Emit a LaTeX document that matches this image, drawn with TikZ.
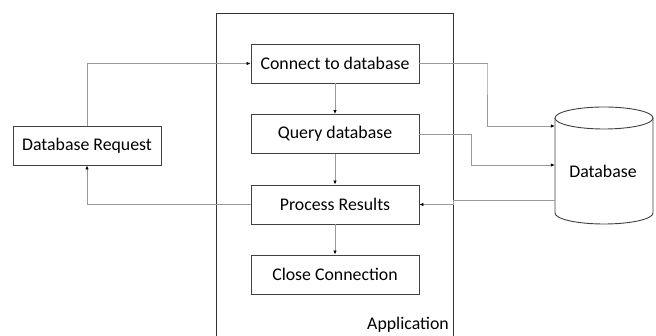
\documentclass[tikz,border=0pt]{standalone}
\usepackage{fontspec}
\setmainfont{Carlito}
\usetikzlibrary{arrows.meta}
\begin{document}
\begin{tikzpicture}[x=1pt,y=-1pt,
  lbl/.style={font=\fontsize{17.8}{20}\selectfont},
  box/.style={draw=black!75, line width=0.9pt, minimum width=168pt, minimum height=39pt, inner sep=0pt, lbl},
  conn/.style={draw=black!40, line width=0.8pt, -{Latex[length=4pt,width=3.5pt,black]}},
  cyl/.style={draw=black!75, line width=0.9pt}]
\useasboundingbox (0,0) rectangle (656,336);
\clip (0,0) rectangle (656,336);
% application container
\draw[black!80, line width=0.9pt] (216,345) -- (216,13) -- (453,13) -- (453,345);
\node[anchor=south east, inner sep=0pt, lbl] (applbl) at (449,333) {Application};
% steps
\node[box] (c1) at (335,63.5) {Connect to database};
\node[box] (c2) at (335,134) {Query database};
\node[box] (c3) at (335,204.5) {Process Results};
\node[box] (c4) at (335,274.5) {Close Connection};
\node[box, minimum width=148pt] (req) at (87,145.5) {Database Request};
% database cylinder
\node[minimum width=98pt, minimum height=117pt, inner sep=0pt] (db) at (604,165.5) {};
\node[lbl] (dblbl) at (603,171) {Database};
\draw[cyl] (604,118) ellipse[x radius=49, y radius=11];
\draw[cyl] (555,118) -- (555,213) arc[start angle=180, end angle=0, x radius=49, y radius=11] -- (653,118);
% connectors
\draw[conn] (req.north) |- (c1.west);
\draw[conn] (c3.west) -| (req.south);
\draw[conn] (c1.south) -- (c2.north);
\draw[conn] (c2.south) -- (c3.north);
\draw[conn] (c3.south) -- (c4.north);
\coordinate (k1) at (487,64);
\coordinate (k2) at (471,134);
\draw[conn] (c1.east) -| (k1) |- (db.west |- 0,126);
\draw[conn] (c2.east) -| (k2) |- (db.west |- 0,165);
\coordinate (k3) at (453,200);
\draw[conn] (db.west |- 0,200) -- (k3) |- (c3.east);
\end{tikzpicture}
\end{document}
